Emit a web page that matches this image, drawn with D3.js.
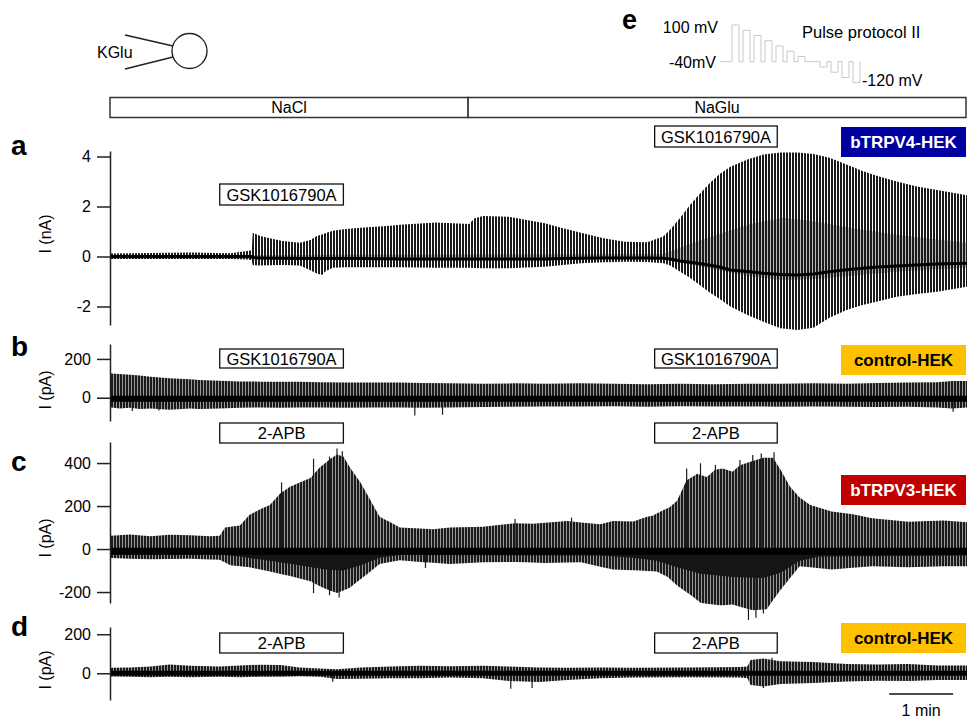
<!DOCTYPE html>
<html>
<head>
<meta charset="utf-8">
<script src="https://cdn.jsdelivr.net/npm/d3@7"></script>
<style>
  body { margin: 0; background: #fff; }
  svg { display: block; font-family: "Liberation Sans", Arial, sans-serif; }
</style>
</head>
<body>
<script>
// ---------------- data ----------------
// time axis in seconds; 1 min scale bar
const scaleBarStart = 730, scaleBarEnd = 790;
const totalTime = 803;

// bath solutions
const solutionNames = ["NaCl", "NaGlu"];
const solutionStart = [0, 335];
const solutionEnd = [335, 803];

// drug application periods (s)
const drugStart = [102, 510];
const drugEnd = [218, 625];
const drugNames = ["GSK1016790A", "GSK1016790A", "2-APB", "2-APB"]; // per panel

// cell lines
const cellNames = ["bTRPV4-HEK", "control-HEK", "bTRPV3-HEK", "control-HEK"];
const cellColors = ["#0000a0", "#ffc000", "#c00000", "#ffc000"];
const cellTextColors = ["#ffffff", "#000000", "#ffffff", "#000000"];

// tick labels
const ticksA = [-2, 0, 2, 4];
const ticksB = [0, 200];
const ticksC = [-200, 0, 200, 400];
const ticksD = [0, 200];

// panel a (nA): envelope of the current sweeps
const aTime  = [0, 37, 74, 112, 128, 132, 133, 140, 149, 161, 177, 187, 193, 198, 201, 208, 220, 234, 248, 262, 271, 305, 336, 341, 349, 373, 390, 407, 424, 441, 462, 482, 503, 518, 524, 534, 543, 550, 562, 571, 581, 597, 612, 628, 644, 659, 674, 690, 705, 719, 737, 756, 775, 803];
const aUpper = [0.12, 0.14, 0.16, 0.13, 0.22, 0.25, 0.95, 0.82, 0.73, 0.62, 0.55, 0.66, 0.82, 0.88, 0.93, 1.03, 1.10, 1.15, 1.19, 1.23, 1.27, 1.36, 1.30, 1.53, 1.62, 1.59, 1.46, 1.33, 1.13, 0.95, 0.73, 0.59, 0.57, 0.80, 1.05, 1.55, 2.05, 2.40, 2.95, 3.30, 3.59, 3.88, 4.08, 4.16, 4.16, 4.10, 3.95, 3.68, 3.42, 3.22, 3.00, 2.80, 2.66, 2.45];
const aLower = [-0.10, -0.10, -0.10, -0.10, -0.12, -0.15, -0.35, -0.36, -0.35, -0.34, -0.36, -0.55, -0.68, -0.74, -0.60, -0.45, -0.43, -0.43, -0.43, -0.43, -0.43, -0.45, -0.45, -0.46, -0.47, -0.47, -0.44, -0.41, -0.34, -0.27, -0.23, -0.21, -0.22, -0.27, -0.35, -0.61, -0.85, -1.07, -1.45, -1.70, -2.00, -2.34, -2.61, -2.87, -2.94, -2.85, -2.45, -2.14, -1.94, -1.80, -1.61, -1.50, -1.41, -1.21];
const aBase  = [0, 0, 0, 0, 0, 0, -0.05, -0.06, -0.07, -0.07, -0.08, -0.08, -0.08, -0.08, -0.08, -0.08, -0.08, -0.08, -0.09, -0.09, -0.10, -0.10, -0.10, -0.10, -0.10, -0.10, -0.10, -0.10, -0.08, -0.07, -0.06, -0.06, -0.06, -0.07, -0.10, -0.18, -0.23, -0.27, -0.35, -0.42, -0.54, -0.60, -0.67, -0.72, -0.74, -0.70, -0.61, -0.53, -0.47, -0.42, -0.38, -0.34, -0.30, -0.27];
// darker inner part of panel a (overlapping sweep steps)
const aInnerTime  = [0, 518, 540, 570, 600, 630, 660, 700, 740, 803];
const aInnerUpper = [0.05, 0.1, 0.45, 0.9, 1.3, 1.55, 1.4, 1.1, 0.85, 0.55];
const aInnerLower = [-0.1, -0.1, -0.3, -0.55, -0.8, -0.95, -0.9, -0.75, -0.6, -0.45];

// panel b (pA)
const bTime  = [0, 8, 18, 27, 37, 55, 74, 83, 102, 121, 140, 159, 177, 196, 220, 248, 271, 290, 318, 349, 379, 407, 441, 471, 503, 534, 565, 597, 628, 659, 690, 719, 748, 775, 789, 803];
const bUpper = [125, 122, 118, 115, 108, 100, 95, 91, 88, 84, 83, 82, 82, 80, 78, 78, 78, 76, 74, 72, 74, 72, 74, 72, 70, 72, 70, 72, 72, 74, 72, 76, 78, 80, 86, 86];
const bLower = [-50, -55, -52, -58, -55, -62, -56, -58, -55, -52, -50, -52, -50, -50, -52, -50, -50, -52, -50, -48, -46, -45, -45, -44, -46, -44, -45, -45, -46, -45, -46, -48, -46, -50, -55, -50];
const bBaseLevel = -5;
const bSpikeTime  = [20, 45, 285, 311, 790];
const bSpikeValue = [-68, -66, -92, -88, -72];

// panel c (pA)
const cTime  = [0, 18, 37, 55, 74, 93, 102, 107, 121, 130, 140, 149, 159, 168, 177, 187, 196, 206, 212, 218, 224, 234, 243, 252, 262, 271, 302, 318, 349, 379, 396, 428, 459, 471, 490, 503, 508, 518, 524, 531, 540, 550, 559, 567, 574, 583, 590, 602, 612, 621, 628, 637, 646, 656, 676, 696, 714, 748, 781, 803];
const cUpper = [62, 68, 60, 66, 64, 60, 62, 100, 110, 160, 185, 205, 260, 290, 310, 330, 380, 420, 440, 430, 380, 310, 230, 150, 125, 100, 92, 100, 104, 120, 118, 130, 115, 130, 128, 150, 155, 180, 195, 225, 320, 350, 335, 370, 375, 360, 390, 410, 425, 425, 370, 290, 240, 205, 175, 162, 143, 127, 133, 125];
const cLowerTime = [0, 37, 74, 102, 112, 130, 149, 168, 187, 201, 212, 224, 238, 252, 271, 290, 318, 349, 379, 407, 441, 471, 496, 512, 522, 531, 546, 553, 571, 583, 602, 615, 628, 646, 676, 714, 748, 781, 803];
const cLower = [-42, -48, -45, -50, -75, -85, -105, -125, -150, -185, -205, -180, -125, -70, -52, -60, -70, -62, -60, -65, -62, -95, -100, -105, -129, -170, -222, -250, -262, -258, -285, -280, -190, -80, -95, -80, -85, -80, -80];
const cDenseTime = [0, 102, 121, 149, 177, 201, 218, 234, 252, 271, 459, 490, 512, 531, 553, 583, 612, 628, 646, 665, 803];
const cDense = [-25, -25, -35, -55, -75, -95, -100, -75, -40, -28, -30, -40, -55, -85, -115, -130, -135, -110, -55, -35, -30];
const cBaseLevel = -10;
const cSpikeTime  = [160, 190, 205, 212, 217, 295, 379, 432, 540, 553, 567, 590, 602, 610, 622, 190, 205, 214, 598, 605, 612];
const cSpikeValue = [310, 420, 430, 468, 455, -88, 140, 146, 375, 399, 391, 414, 437, 445, 450, -205, -215, -225, -330, -320, -300];

// panel d (pA)
const dTime  = [0, 18, 37, 55, 74, 102, 121, 140, 159, 177, 196, 212, 234, 262, 290, 318, 349, 373, 402, 428, 459, 490, 540, 590, 597, 600, 612, 628, 659, 690, 719, 748, 775, 803];
const dUpper = [28, 30, 35, 45, 38, 34, 40, 44, 42, 30, 25, 20, 30, 35, 38, 36, 38, 35, 30, 28, 30, 28, 30, 32, 35, 68, 75, 62, 58, 48, 45, 48, 40, 40];
const dLower = [-16, -18, -20, -18, -20, -18, -20, -18, -18, -15, -18, -30, -28, -26, -25, -22, -25, -40, -45, -35, -25, -22, -20, -22, -25, -60, -68, -55, -50, -42, -38, -40, -35, -35];
const dBaseLevel = 0;
const dSpikeTime  = [208, 375, 395, 612, 620];
const dSpikeValue = [-43, -80, -75, -75, 80];

// pulse protocol II (mV)
const pulseVoltages = [100, 80, 60, 40, 20, 0, -20, -40, -60, -80, -100, -120];
const holdingPotential = -40;

// ---------------- drawing ----------------
const W = 969, H = 720;
const svg = d3.select("body").append("svg").attr("width", W).attr("height", H);
const defs = svg.append("defs");
function makePattern(id, gapFill) {
  const pat = defs.append("pattern").attr("id", id)
    .attr("patternUnits", "userSpaceOnUse").attr("width", 3).attr("height", 20);
  if (gapFill) pat.append("rect").attr("x", 2).attr("y", 0).attr("width", 1).attr("height", 20).attr("fill", gapFill);
  pat.append("rect").attr("x", 0).attr("y", 0).attr("width", 2).attr("height", 20).attr("fill", "#1a1a1a");
}
makePattern("sweeps", null);
makePattern("sweepsDense", "#9a9a9a");
makePattern("sweepsInner", "#b8b8b8");

const FONT = "'Liberation Sans', Arial, sans-serif";
const x = d3.scaleLinear().domain([0, totalTime]).range([111, 967]);

// cell schematic
svg.append("text").attr("x", 97).attr("y", 58).attr("font-size", 16).text("KGlu");
svg.append("line").attr("x1", 125).attr("y1", 35).attr("x2", 173).attr("y2", 46).attr("stroke", "#222").attr("stroke-width", 1.4);
svg.append("line").attr("x1", 125).attr("y1", 69).attr("x2", 173).attr("y2", 57).attr("stroke", "#222").attr("stroke-width", 1.4);
svg.append("circle").attr("cx", 189.5).attr("cy", 51).attr("r", 17.5).attr("fill", "none").attr("stroke", "#222").attr("stroke-width", 1.4);

// pulse protocol
const yP = d3.scaleLinear().domain([-120, 100]).range([82.7, 25]);
const pp = d3.path();
pp.moveTo(720, yP(holdingPotential));
pulseVoltages.forEach((v, i) => {
  const x0 = 732 + i * 11;
  pp.lineTo(x0, yP(holdingPotential));
  pp.lineTo(x0, yP(v));
  pp.lineTo(x0 + 7, yP(v));
  pp.lineTo(x0 + 7, yP(holdingPotential));
});
svg.append("path").attr("d", pp.toString()).attr("fill", "none").attr("stroke", "#c8c8c8").attr("stroke-width", 1);
svg.append("text").attr("x", 622).attr("y", 29).attr("font-size", 27).attr("font-weight", "bold").text("e");
svg.append("text").attr("x", 718).attr("y", 33).attr("font-size", 16).attr("text-anchor", "end").text("100 mV");
svg.append("text").attr("x", 716).attr("y", 68).attr("font-size", 16).attr("text-anchor", "end").text("-40mV");
svg.append("text").attr("x", 862).attr("y", 86).attr("font-size", 16).text("-120 mV");
svg.append("text").attr("x", 802).attr("y", 38).attr("font-size", 16.5).text("Pulse protocol II");

// solution bar
solutionNames.forEach((n, i) => {
  const x0 = x(solutionStart[i]) - (i === 0 ? 1 : 0), x1 = x(solutionEnd[i]) - (i === 1 ? 1 : 0);
  svg.append("rect").attr("x", x0).attr("y", 97.5).attr("width", x1 - x0).attr("height", 20)
    .attr("fill", "#fff").attr("stroke", "#333").attr("stroke-width", 1.5);
  svg.append("text").attr("x", (x0 + x1) / 2).attr("y", 113).attr("text-anchor", "middle")
    .attr("font-size", 16).text(n);
});

// panels
const panels = [
  { letter: "a", letterY: 155, unit: "I (nA)", labelY: 234, domain: [-2.74, 4.22], range: [325, 151], ticks: ticksA,
    boxY: [184, 126], boxH: 21, cellY: 127, pattern: "sweeps",
    time: aTime, upper: aUpper, lowerTime: aTime, lower: aLower, baseArr: aBase, baseW: 3,
    innerT: aInnerTime, innerUp: aInnerUpper, innerLo: aInnerLower },
  { letter: "b", letterY: 356, unit: "I (pA)", labelY: 390, domain: [-120, 277], range: [421, 344], ticks: ticksB,
    boxY: [349, 349], boxH: 19, cellY: 345, pattern: "sweepsDense",
    time: bTime, upper: bUpper, lowerTime: bTime, lower: bLower, baseLevel: bBaseLevel, baseW: 6,
    spikeT: bSpikeTime, spikeV: bSpikeValue },
  { letter: "c", letterY: 471, unit: "I (pA)", labelY: 538, domain: [-251, 498], range: [603, 442], ticks: ticksC,
    boxY: [423, 423], boxH: 20, cellY: 475, pattern: "sweepsDense",
    time: cTime, upper: cUpper, lowerTime: cLowerTime, lower: cLower, baseLevel: cBaseLevel, baseW: 7,
    denseT: cDenseTime, dense: cDense, spikeT: cSpikeTime, spikeV: cSpikeValue },
  { letter: "d", letterY: 636, unit: "I (pA)", labelY: 670, domain: [-137, 237], range: [700, 627], ticks: ticksD,
    boxY: [633, 633], boxH: 20, cellY: 623, pattern: "sweepsDense",
    time: dTime, upper: dUpper, lowerTime: dTime, lower: dLower, baseLevel: dBaseLevel, baseW: 5,
    spikeT: dSpikeTime, spikeV: dSpikeValue }
];

panels.forEach((p, pi) => {
  const y = d3.scaleLinear().domain(p.domain).range(p.range);
  const g = svg.append("g");

  // envelope of sweeps
  const upperFn = d3.scaleLinear().domain(p.time).range(p.upper);
  const lowerFn = d3.scaleLinear().domain(p.lowerTime).range(p.lower);
  const allT = Array.from(new Set(p.time.concat(p.lowerTime))).sort((a, b) => a - b);
  const area = d3.area()
    .x(t => x(t))
    .y1(t => y(upperFn(t)))
    .y0(t => y(lowerFn(t)));
  g.append("path").datum(allT).attr("d", area).attr("fill", `url(#${p.pattern})`);

  // darker inner part where sweep steps overlap
  if (p.innerT) {
    const innerArea = d3.area()
      .x((d, i) => x(p.innerT[i]))
      .y1((d, i) => y(p.innerUp[i]))
      .y0((d, i) => y(p.innerLo[i]));
    g.append("path").datum(p.innerT).attr("d", innerArea).attr("fill", "url(#sweepsInner)");
  }

  // isolated spikes
  if (p.spikeT) {
    p.spikeT.forEach((t, i) => {
      g.append("line").attr("x1", x(t)).attr("x2", x(t))
        .attr("y1", y(p.baseLevel)).attr("y2", y(p.spikeV[i]))
        .attr("stroke", "#1a1a1a").attr("stroke-width", 1.2);
    });
  }

  // dense inward-current region
  if (p.dense) {
    const denseArea = d3.area()
      .x((d, i) => x(p.denseT[i]))
      .y0((d, i) => y(p.dense[i]))
      .y1(() => y(p.baseLevel));
    g.append("path").datum(p.dense).attr("d", denseArea).attr("fill", "#151515");
  }

  // baseline (holding current)
  if (p.baseArr) {
    const baseLine = d3.line().x((d, i) => x(p.time[i])).y(d => y(d));
    g.append("path").datum(p.baseArr).attr("d", baseLine).attr("fill", "none")
      .attr("stroke", "#000").attr("stroke-width", p.baseW);
  } else {
    const baseLine = d3.line().x(t => x(t)).y(() => y(p.baseLevel));
    g.append("path").datum([0, totalTime]).attr("d", baseLine).attr("fill", "none")
      .attr("stroke", "#000").attr("stroke-width", p.baseW);
  }

  // axis
  const ax = g.append("g").attr("transform", "translate(110,0)")
    .call(d3.axisLeft(y).tickValues(p.ticks).tickSize(13).tickSizeOuter(0).tickPadding(6).tickFormat(d3.format("d")));
  ax.select(".domain").attr("stroke", "#222").attr("stroke-width", 1.5);
  ax.selectAll(".tick line").attr("stroke", "#222").attr("stroke-width", 1.5);
  ax.selectAll(".tick text").attr("font-size", 16).attr("font-family", FONT).attr("fill", "#000")
    .text(d => d < 0 ? "-" + Math.abs(d) : d);

  // unit label
  g.append("text").attr("transform", `translate(51,${p.labelY}) rotate(-90)`)
    .attr("text-anchor", "middle").attr("font-size", 16).text(p.unit);

  // panel letter
  g.append("text").attr("x", 11).attr("y", p.letterY).attr("font-size", 28).attr("font-weight", "bold").text(p.letter);

  // drug application boxes
  drugStart.forEach((s, i) => {
    const x0 = x(s), x1 = x(drugEnd[i]);
    g.append("rect").attr("x", x0).attr("y", p.boxY[i]).attr("width", x1 - x0).attr("height", p.boxH)
      .attr("fill", "#fff").attr("stroke", "#111").attr("stroke-width", 1.3);
    g.append("text").attr("x", (x0 + x1) / 2).attr("y", p.boxY[i] + p.boxH / 2 + 6)
      .attr("text-anchor", "middle").attr("font-size", 16.5).text(drugNames[pi]);
  });

  // cell line label
  g.append("rect").attr("x", 841).attr("y", p.cellY).attr("width", 125).attr("height", 30).attr("fill", cellColors[pi]);
  g.append("text").attr("x", 903.5).attr("y", p.cellY + 21).attr("text-anchor", "middle")
    .attr("font-size", 17).attr("font-weight", "bold").attr("fill", cellTextColors[pi]).text(cellNames[pi]);
});

// time scale bar
svg.append("line").attr("x1", x(scaleBarStart)).attr("x2", x(scaleBarEnd)).attr("y1", 694).attr("y2", 694)
  .attr("stroke", "#111").attr("stroke-width", 1.5);
svg.append("text").attr("x", (x(scaleBarStart) + x(scaleBarEnd)) / 2).attr("y", 716).attr("text-anchor", "middle")
  .attr("font-size", 16).text("1 min");
</script>
</body>
</html>
